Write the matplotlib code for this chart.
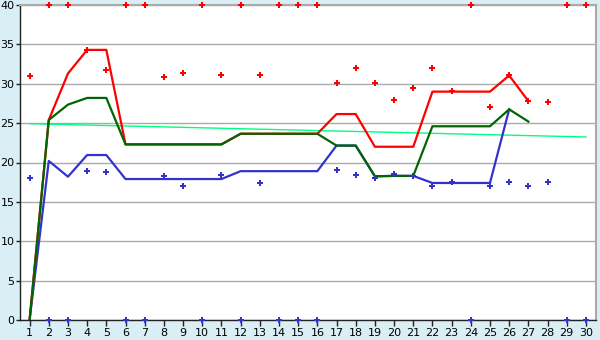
import matplotlib
matplotlib.use("Agg")
import matplotlib.pyplot as plt
import numpy as np

days = list(range(1, 31))

red_points = [31, 40, 40, 34.3, 31.8, 40, 40, 30.8, 31.4, 40,
              31.05, 40, 31.05, 40, 40, 40, 30.05, 31.95, 30.05, 28.0,
              29.4, 31.95, 29.05, 40, 27.0, 31.05, 27.8, 27.7, 40, 40]
blue_points = [18.0, 0, 0, 18.95, 18.75, 0, 0, 18.3, 17.0, 0,
               18.4, 0, 17.35, 0, 0, 0, 19.0, 18.4, 18.0, 18.5,
               18.3, 17.0, 17.5, 0, 17.0, 17.5, 17.0, 17.5, 0, 0]

red_line = [0, 25.4, 31.3, 34.3, 34.3, 22.3, 22.3, 22.3, 22.3, 22.3,
            22.3, 23.65, 23.65, 23.65, 23.65, 23.65, 26.15, 26.15, 22.0, 22.0,
            22.0, 29.0, 29.0, 29.0, 29.0, 31.05, 27.8]
green_line = [0, 25.4, 27.35, 28.2, 28.2, 22.3, 22.3, 22.3, 22.3, 22.3,
              22.3, 23.65, 23.65, 23.65, 23.65, 23.65, 22.15, 22.15, 18.25, 18.3,
              18.3, 24.6, 24.6, 24.6, 24.6, 26.75, 25.2]
blue_line = [0, 20.2, 18.2, 20.95, 20.95, 17.9, 17.9, 17.9, 17.9, 17.9,
             17.9, 18.9, 18.9, 18.9, 18.9, 18.9, 22.15, 22.15, 18.25, 18.3,
             18.3, 17.4, 17.4, 17.4, 17.4, 26.75]

trend_x = [1, 30]
trend_y = [24.93, 23.24]

y_ticks = [0, 5, 10, 15, 20, 25, 30, 35, 40]

bg = "#D9EEF5"
fig = plt.figure(figsize=(6, 3.4), dpi=100, facecolor=bg)
ax = fig.add_axes([20 / 600, 20 / 340, 575.5 / 600, 315 / 340])
ax.set_facecolor("white")

ax.set_xlim(0.5, 30.5)
ax.set_ylim(0, 40)
ax.set_yticks(y_ticks)
ax.set_xticks(days)
ax.grid(axis="y", color="#AAAAAA", linewidth=1.0)
ax.set_axisbelow(True)

for s in ["top", "right"]:
    ax.spines[s].set_color("#AAAAAA")
    ax.spines[s].set_linewidth(1.5)
for s in ["left", "bottom"]:
    ax.spines[s].set_color("#222222")
    ax.spines[s].set_linewidth(1.0)

ax.tick_params(axis="x", direction="out", length=4, width=1, color="#222222",
               labelsize=8, pad=2, labelcolor="black")
ax.tick_params(axis="y", direction="out", length=3, width=1, color="#222222",
               labelsize=8, pad=1, labelcolor="black")

ax.plot(trend_x, trend_y, color="#00FF80", linewidth=1.0, zorder=2)
ax.plot(days[:len(blue_line)], blue_line, color="#3333CC", linewidth=1.6, zorder=3)
ax.plot(days[:len(red_line)], red_line, color="#FF0000", linewidth=1.6, zorder=4)
ax.plot(days[:len(green_line)], green_line, color="#006600", linewidth=1.6, zorder=5)

ax.plot(days, red_points, linestyle="none", marker="P", markersize=4.5,
        color="#FF0000", markeredgewidth=0, zorder=6, clip_on=False)
ax.plot(days, blue_points, linestyle="none", marker="P", markersize=4.5,
        color="#3333CC", markeredgewidth=0, zorder=6, clip_on=False)

fig.savefig("out.png", dpi=100, facecolor=bg)
